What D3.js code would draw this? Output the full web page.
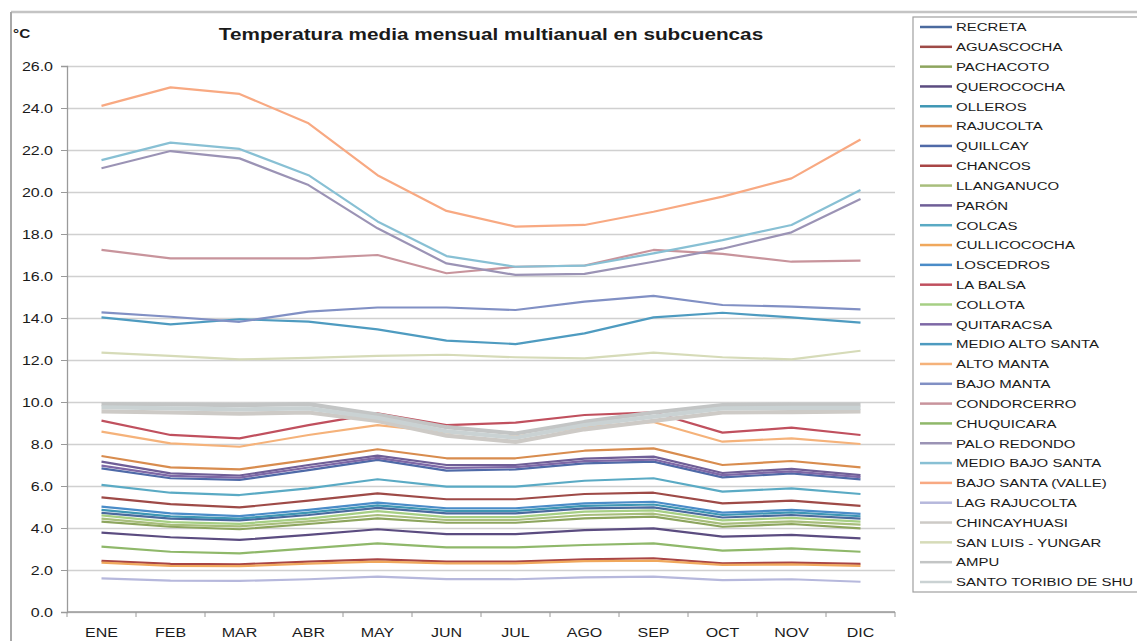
<!DOCTYPE html>
<html>
<head>
<meta charset="utf-8">
<script src="https://cdn.jsdelivr.net/npm/d3@7/dist/d3.min.js"></script>
<style>
  html, body { margin: 0; padding: 0; background: #ffffff; }
  svg { display: block; }
  text { font-family: "Liberation Sans", Arial, sans-serif; fill: #1a1a1a; }
</style>
</head>
<body>
<svg id="chart" width="1137" height="641"></svg>
<script>
// Months on the category axis
const months = ["ENE","FEB","MAR","ABR","MAY","JUN","JUL","AGO","SEP","OCT","NOV","DIC"];

// Y axis tick values (°C)
const yTicks = [0, 2, 4, 6, 8, 10, 12, 14, 16, 18, 20, 22, 24, 26];

// Mean monthly temperature per sub-basin (°C), ENE..DIC
const recreta        = [4.72, 4.45, 4.36, 4.62, 4.96, 4.70, 4.70, 4.93, 4.98, 4.50, 4.62, 4.45];
const aguascocha     = [5.46, 5.14, 4.98, 5.30, 5.65, 5.37, 5.37, 5.62, 5.68, 5.17, 5.30, 5.05];
const pachacoto      = [4.30, 4.06, 3.94, 4.19, 4.46, 4.25, 4.25, 4.46, 4.54, 4.06, 4.19, 3.98];
const querococha     = [3.78, 3.56, 3.43, 3.67, 3.94, 3.71, 3.71, 3.90, 3.98, 3.59, 3.67, 3.51];
const olleros        = [4.86, 4.55, 4.45, 4.73, 5.08, 4.82, 4.82, 5.05, 5.12, 4.62, 4.74, 4.56];
const rajucolta      = [7.43, 6.89, 6.79, 7.24, 7.75, 7.32, 7.32, 7.68, 7.79, 7.00, 7.19, 6.89];
const quillcay       = [6.84, 6.37, 6.29, 6.76, 7.24, 6.73, 6.79, 7.08, 7.16, 6.41, 6.60, 6.32];
const chancos        = [2.43, 2.29, 2.27, 2.40, 2.51, 2.40, 2.40, 2.51, 2.56, 2.32, 2.35, 2.29];
const llanganuco     = [4.45, 4.15, 4.08, 4.32, 4.62, 4.38, 4.38, 4.62, 4.68, 4.20, 4.32, 4.16];
const paron          = [7.16, 6.60, 6.50, 7.00, 7.45, 7.00, 7.00, 7.30, 7.40, 6.62, 6.82, 6.52];
const colcas         = [6.05, 5.68, 5.57, 5.89, 6.32, 5.97, 5.97, 6.25, 6.37, 5.73, 5.89, 5.62];
const cullicocha     = [2.35, 2.20, 2.18, 2.30, 2.40, 2.32, 2.32, 2.42, 2.45, 2.24, 2.27, 2.20];
const losCedros      = [5.02, 4.70, 4.57, 4.86, 5.21, 4.94, 4.94, 5.17, 5.25, 4.73, 4.86, 4.67];
const laBalsa        = [9.11, 8.43, 8.27, 8.90, 9.46, 8.90, 9.02, 9.38, 9.51, 8.54, 8.78, 8.43];
const collota        = [4.60, 4.28, 4.20, 4.45, 4.80, 4.52, 4.52, 4.78, 4.84, 4.36, 4.48, 4.30];
const quitaracsa     = [6.97, 6.48, 6.40, 6.88, 7.34, 6.86, 6.90, 7.18, 7.26, 6.52, 6.70, 6.42];
const medioAltoSanta = [14.03, 13.70, 13.94, 13.83, 13.46, 12.92, 12.76, 13.27, 14.03, 14.25, 14.03, 13.78];
const altoManta      = [8.59, 8.03, 7.87, 8.43, 8.90, 8.55, 8.35, 8.80, 9.05, 8.11, 8.27, 8.00];
const bajoManta      = [14.27, 14.06, 13.82, 14.30, 14.50, 14.50, 14.38, 14.78, 15.05, 14.62, 14.54, 14.41];
const condorcerro    = [17.24, 16.84, 16.84, 16.84, 17.00, 16.13, 16.44, 16.50, 17.24, 17.05, 16.68, 16.73];
const chuquicara     = [3.11, 2.87, 2.79, 3.03, 3.27, 3.08, 3.08, 3.19, 3.27, 2.92, 3.03, 2.87];
const paloRedondo    = [21.13, 21.95, 21.60, 20.33, 18.27, 16.60, 16.05, 16.10, 16.68, 17.30, 18.08, 19.67];
const medioBajoSanta = [21.52, 22.35, 22.05, 20.80, 18.60, 16.95, 16.44, 16.49, 17.08, 17.71, 18.43, 20.10];
const bajoSantaValle = [24.10, 24.98, 24.67, 23.27, 20.80, 19.10, 18.35, 18.43, 19.06, 19.78, 20.65, 22.50];
const lagRajucolta   = [1.60, 1.49, 1.48, 1.56, 1.68, 1.57, 1.56, 1.65, 1.68, 1.52, 1.56, 1.44];
const chincayhuasi   = [9.55, 9.50, 9.45, 9.50, 9.10, 8.40, 8.10, 8.70, 9.10, 9.50, 9.52, 9.55];
const sanLuisYungar  = [12.35, 12.20, 12.03, 12.10, 12.20, 12.25, 12.13, 12.08, 12.35, 12.13, 12.03, 12.44];
const ampu           = [9.90, 9.88, 9.85, 9.90, 9.40, 8.80, 8.50, 9.05, 9.50, 9.85, 9.88, 9.88];
const santoToribio   = [9.75, 9.70, 9.65, 9.70, 9.25, 8.60, 8.30, 8.90, 9.30, 9.70, 9.72, 9.72];

// Legend names, in series order
const seriesNames = [
  "RECRETA", "AGUASCOCHA", "PACHACOTO", "QUEROCOCHA", "OLLEROS", "RAJUCOLTA",
  "QUILLCAY", "CHANCOS", "LLANGANUCO", "PARÓN", "COLCAS", "CULLICOCOCHA",
  "LOSCEDROS", "LA BALSA", "COLLOTA", "QUITARACSA", "MEDIO ALTO SANTA", "ALTO MANTA",
  "BAJO MANTA", "CONDORCERRO", "CHUQUICARA", "PALO REDONDO", "MEDIO BAJO SANTA",
  "BAJO SANTA (VALLE)", "LAG RAJUCOLTA", "CHINCAYHUASI", " SAN LUIS - YUNGAR", "AMPU",
  "SANTO TORIBIO DE SHU"
];
const seriesValues = [
  recreta, aguascocha, pachacoto, querococha, olleros, rajucolta,
  quillcay, chancos, llanganuco, paron, colcas, cullicocha,
  losCedros, laBalsa, collota, quitaracsa, medioAltoSanta, altoManta,
  bajoManta, condorcerro, chuquicara, paloRedondo, medioBajoSanta,
  bajoSantaValle, lagRajucolta, chincayhuasi, sanLuisYungar, ampu,
  santoToribio
];
const seriesColors = [
  "#4a6a9e", "#9e4a47", "#8da55e", "#5b4c80", "#3e96b4", "#d88c4e",
  "#4f6aa8", "#a84545", "#a8be7c", "#6f5e97", "#5aaac4", "#f0a85c",
  "#4a8cc8", "#c0505e", "#a6cf84", "#7e68a6", "#4e9bc0", "#f5b27a",
  "#8190c4", "#c8949c", "#8fb86a", "#9b93b5", "#88c0d4",
  "#f8a982", "#b6b8dc", "#cdcac6", "#d6dbb8", "#c3c5c5",
  "#cad2d3"
];
// Wider strokes for the pale group that reads as a band around 10 °C
const wideSeries = new Set(["CHINCAYHUASI", "AMPU", "SANTO TORIBIO DE SHU"]);

const series = seriesNames.map((name, i) => ({
  name, color: seriesColors[i],
  values: seriesValues[i].map((v, j) => ({ month: months[j], value: v }))
}));

const svg = d3.select("#chart");
const SX = 1.28; // horizontal stretch of the lettering

function label(parent, x, y, str, opts = {}) {
  return parent.append("text")
    .attr("transform", `translate(${x},${y}) scale(${SX},1)`)
    .attr("text-anchor", opts.anchor || "start")
    .style("font-size", (opts.size || 12) + "px")
    .style("font-weight", opts.weight || "normal")
    .text(str);
}

// Outer frame
svg.append("line").attr("x1", 11).attr("x2", 1137).attr("y1", 12).attr("y2", 12)
  .attr("stroke", "#c4c4c4").attr("stroke-width", 2.5);
svg.append("line").attr("x1", 11).attr("x2", 11).attr("y1", 12).attr("y2", 641)
  .attr("stroke", "#a8a8a8").attr("stroke-width", 2);

// Plot area
const plot = { left: 67, right: 895, top: 66, bottom: 612 };

const x = d3.scaleBand().domain(months).range([plot.left, plot.right]).paddingInner(0).paddingOuter(0);
const y = d3.scaleLinear().domain([0, 26]).range([plot.bottom, plot.top]);
const cx = m => x(m) + x.bandwidth() / 2;

// Horizontal gridlines
svg.append("g")
  .attr("transform", `translate(${plot.left},0)`)
  .call(d3.axisLeft(y).tickValues(yTicks).tickSize(-(plot.right - plot.left)).tickFormat(""))
  .call(g => g.select(".domain").remove())
  .call(g => g.selectAll(".tick line").attr("stroke", "#d0d0d0").attr("stroke-width", 1.3));

// Y axis
const yAxis = svg.append("g")
  .attr("transform", `translate(${plot.left},0)`)
  .call(d3.axisLeft(y).tickValues(yTicks).tickSize(6).tickFormat(""));
yAxis.select(".domain").attr("stroke", "#9a9a9a").attr("stroke-width", 1.3);
yAxis.selectAll(".tick line").attr("stroke", "#9a9a9a");
yTicks.forEach(t => label(svg, 53, y(t) + 4.5, d3.format(".1f")(t), { anchor: "end", size: 12.5 }));

// X axis: ticks sit on the category boundaries
svg.append("line")
  .attr("x1", plot.left).attr("x2", plot.right).attr("y1", plot.bottom).attr("y2", plot.bottom)
  .attr("stroke", "#9a9a9a").attr("stroke-width", 1.3);
const boundaries = months.map(m => x(m)).concat([plot.right]);
svg.append("g").selectAll("line").data(boundaries).join("line")
  .attr("x1", d => d).attr("x2", d => d)
  .attr("y1", plot.bottom).attr("y2", plot.bottom + 5)
  .attr("stroke", "#9a9a9a");
months.forEach(m => label(svg, cx(m), 637, m, { anchor: "middle", size: 12.5 }));

// Series lines
const line = d3.line().x(d => cx(d.month)).y(d => y(d.value));
svg.append("g").selectAll("path").data(series).join("path")
  .attr("d", d => line(d.values))
  .attr("fill", "none")
  .attr("stroke", d => d.color)
  .attr("stroke-width", d => wideSeries.has(d.name) ? 4.2 : 2.2)
  .attr("stroke-linejoin", "round");

// Title and unit
label(svg, 491, 40, "Temperatura media mensual multianual en subcuencas", { anchor: "middle", size: 16.2, weight: "bold" });
label(svg, 13, 38, "°C", { size: 12, weight: "bold" });

// Legend
const legend = svg.append("g");
legend.append("rect")
  .attr("x", 913).attr("y", 17).attr("width", 240).attr("height", 575)
  .attr("fill", "#ffffff").attr("stroke", "#a0a0a0").attr("stroke-width", 1.2);
const ly = d3.scalePoint().domain(seriesNames).range([27, 582]);
series.forEach(s => {
  const yy = ly(s.name);
  legend.append("line")
    .attr("x1", 920).attr("x2", 952).attr("y1", yy).attr("y2", yy)
    .attr("stroke", s.color).attr("stroke-width", 2.5);
  label(legend, 956, yy + 4.3, s.name, { size: 11.7 });
});
</script>
</body>
</html>
